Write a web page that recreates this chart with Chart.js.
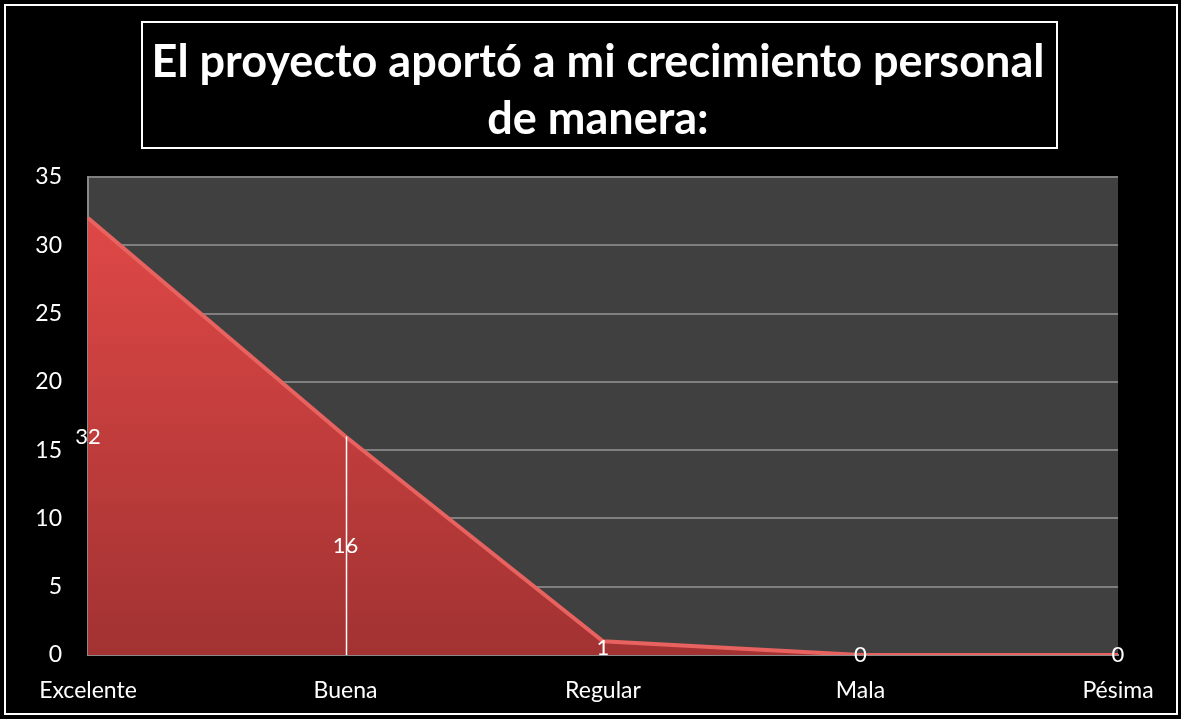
<!DOCTYPE html>
<html>
<head>
<meta charset="utf-8">
<script src="https://cdn.jsdelivr.net/npm/chart.js@4.4.0/dist/chart.umd.min.js"></script>
<style>
    html, body { margin: 0; padding: 0; background: #000; }
    #wrap { width: 1181px; height: 719px; position: relative; }
</style>
</head>
<body>
<div id="wrap"><canvas id="chart"></canvas></div>
<script>
// datos del gráfico
const categories = ['Excelente', 'Buena', 'Regular', 'Mala', 'Pésima'];
const values = [32, 16, 1, 0, 0];
const yTicks = [0, 5, 10, 15, 20, 25, 30, 35];
const titleLines = ['El proyecto aportó a mi crecimiento personal', 'de manera:'];

const fontFamily = 'Lato, "Open Sans", sans-serif';

// fondo, bordes y título dentro de su cuadro
const decor = {
    id: 'decor',
    beforeDraw(chart) {
        const { ctx, chartArea: a } = chart;
        ctx.save();
        ctx.fillStyle = '#000';
        ctx.fillRect(0, 0, chart.width, chart.height);
        ctx.fillStyle = '#404040';
        ctx.fillRect(a.left, a.top, a.right - a.left, a.bottom - a.top);
        ctx.restore();
    },
    afterDraw(chart) {
        const { ctx } = chart;
        ctx.save();
        ctx.strokeStyle = '#fff';
        ctx.lineWidth = 2;
        ctx.strokeRect(5, 5, 1172, 709);
        ctx.strokeRect(142, 22, 915, 126);
        ctx.fillStyle = '#fff';
        ctx.font = 'bold 45px ' + fontFamily;
        ctx.textAlign = 'center';
        ctx.textBaseline = 'middle';
        ctx.fillText(titleLines[0], 598, 62);
        ctx.fillText(titleLines[1], 598, 119);
        ctx.restore();
    }
};

// línea de caída en "Buena" y etiquetas de datos a media altura
const labelsPlugin = {
    id: 'midLabels',
    afterDatasetsDraw(chart) {
        const { ctx, scales: { x, y } } = chart;
        ctx.save();
        ctx.strokeStyle = '#fff';
        ctx.lineWidth = 1.5;
        const px = Math.round(x.getPixelForValue(1)) + 0.5;
        ctx.beginPath();
        ctx.moveTo(px, y.getPixelForValue(values[1]));
        ctx.lineTo(px, y.getPixelForValue(0));
        ctx.stroke();
        ctx.fillStyle = '#fff';
        ctx.font = '22px ' + fontFamily;
        ctx.textAlign = 'center';
        ctx.textBaseline = 'middle';
        values.forEach((v, i) => {
            ctx.fillText(String(v), x.getPixelForValue(i), y.getPixelForValue(v / 2));
        });
        ctx.restore();
    }
};

new Chart(document.getElementById('chart'), {
    type: 'line',
    data: {
        labels: categories,
        datasets: [{
            data: values,
            fill: 'origin',
            tension: 0,
            pointRadius: 0,
            borderColor: '#e86260',
            borderWidth: 4,
            backgroundColor: (c) => {
                const a = c.chart.chartArea;
                if (!a) return '#c84040';
                const g = c.chart.ctx.createLinearGradient(0, a.top, 0, a.bottom);
                g.addColorStop(0, '#e44a48');
                g.addColorStop(1, '#a23232');
                return g;
            }
        }]
    },
    options: {
        responsive: true,
        maintainAspectRatio: false,
        animation: false,
        layout: { padding: { top: 177, right: 63, bottom: 0, left: 0 } },
        plugins: {
            legend: { display: false },
            tooltip: { enabled: false },
            title: { display: false }
        },
        scales: {
            x: {
                offset: false,
                grid: { display: false, drawTicks: false },
                border: { color: '#8a8a8a', width: 2 },
                ticks: { color: '#fff', font: { family: fontFamily, size: 23 }, padding: 22, maxRotation: 0, autoSkip: false },
                afterFit: (s) => { s.height = 64; }
            },
            y: {
                min: 0,
                max: 35,
                afterBuildTicks: (s) => { s.ticks = yTicks.map(v => ({ value: v })); },
                grid: { color: '#7f7f7f', lineWidth: 2, drawTicks: false },
                border: { color: '#8a8a8a', width: 2 },
                ticks: { color: '#fff', font: { family: fontFamily, size: 23 }, padding: 26 },
                afterFit: (s) => { s.width = 88; }
            }
        }
    },
    plugins: [decor, labelsPlugin]
});
</script>
</body>
</html>
